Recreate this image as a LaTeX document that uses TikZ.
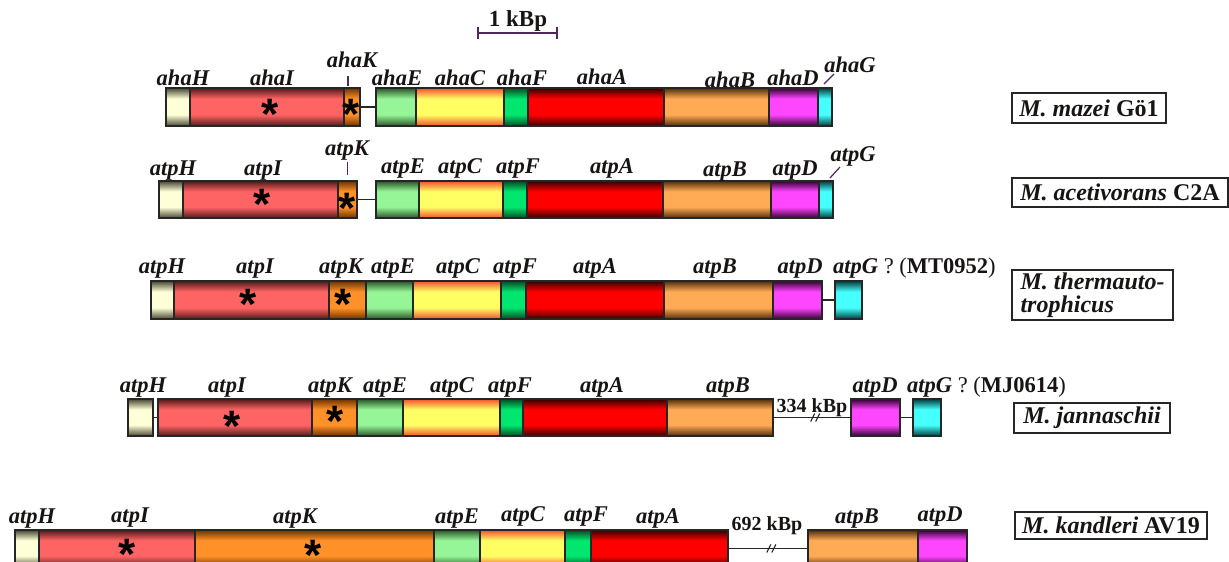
\documentclass[tikz,border=0pt]{standalone}
\usepackage{fontspec}
\setmainfont{Liberation Serif}
\newfontfamily\asterfont{Liberation Sans}
\usetikzlibrary{fit,calc}
\definecolor{txt}{RGB}{25,20,20}
\definecolor{tk}{RGB}{80,40,90}
\definecolor{cH}{RGB}{255,255,215}\definecolor{dH}{RGB}{70,70,50}
\definecolor{cI}{RGB}{255,100,100}\definecolor{dI}{RGB}{80,25,25}
\definecolor{cK}{RGB}{255,145,40}\definecolor{dK}{RGB}{110,50,0}
\definecolor{cE}{RGB}{150,245,150}\definecolor{dE}{RGB}{40,85,40}
\definecolor{cC}{RGB}{255,255,100}\definecolor{dC}{RGB}{240,80,45}
\definecolor{cF}{RGB}{0,230,110}\definecolor{dF}{RGB}{0,75,35}
\definecolor{cA}{RGB}{255,0,0}\definecolor{dA}{RGB}{50,0,0}
\definecolor{cB}{RGB}{255,170,85}\definecolor{dB}{RGB}{80,45,10}
\definecolor{cD}{RGB}{255,70,255}\definecolor{dD}{RGB}{50,0,50}
\definecolor{cG}{RGB}{70,255,255}\definecolor{dG}{RGB}{0,60,60}
\newcommand\mkshade[1]{\pgfdeclareverticalshading{sh#1}{100bp}{color(0bp)=(d#1); color(25bp)=(d#1); color(40bp)=(c#1); color(61bp)=(c#1); color(75bp)=(d#1); color(100bp)=(d#1)}}
\mkshade{H}\mkshade{I}\mkshade{K}\mkshade{E}\mkshade{C}\mkshade{F}\mkshade{A}\mkshade{B}\mkshade{D}\mkshade{G}
\newcommand\gn[6]{\node[gene=#2, fit={(#3,#5) (#4,#6)}] (#1) {};}
\newcommand\astr{\smash{\raisebox{-0.45em}{*}}}
\begin{document}
\begin{tikzpicture}[x=1pt,y=-1pt,
 gene/.style={draw=black!85, line width=1.1pt, shade, shading=sh#1, shading angle=0, inner sep=0pt, outer sep=0pt},
 lbl/.style={font=\fontsize{22.5}{24}\selectfont\bfseries\itshape, text=txt, inner sep=0pt, anchor=base},
 ast/.style={font=\asterfont\fontsize{44}{44}\selectfont\bfseries, inner sep=0pt},
 conn/.style={draw=black!85, line width=1.2pt},
 tickln/.style={draw=tk, line width=1.2pt},
 spbox/.style={draw=black!85, line width=1.1pt, font=\fontsize{24}{23}\selectfont\bfseries, text=txt, inner sep=0pt},
 kbp/.style={font=\fontsize{20}{22}\selectfont\bfseries, text=txt, inner sep=0pt, anchor=base}
]
\useasboundingbox (0,0) rectangle (1229,562);
\clip (0,0) rectangle (1229,562);
\fill[white] (0,0) rectangle (1229,562);

% scale bar
\coordinate (sbL) at (478,33); \coordinate (sbR) at (557,33);
\draw[tickln] (sbL) -- (sbR);
\draw[tickln] ($(sbL)+(0,-6)$) -- ($(sbL)+(0,6)$);
\draw[tickln] ($(sbR)+(0,-6)$) -- ($(sbR)+(0,6)$);
\node[kbp, font=\fontsize{23}{25}\selectfont\bfseries] (sbt) at (518,27) {1 kBp};

% ---------- row 1: M. mazei
\gn{r1H}{H}{166}{190}{88}{126}
\gn{r1I}{I}{190}{344}{88}{126}
\gn{r1K}{K}{344}{360}{88}{126}
\gn{r1E}{E}{376}{416}{88}{126}
\gn{r1C}{C}{416}{504}{88}{126}
\gn{r1F}{F}{504}{528}{88}{126}
\gn{r1A}{A}{528}{664}{88}{126}
\gn{r1B}{B}{664}{769}{88}{126}
\gn{r1D}{D}{769}{818}{88}{126}
\gn{r1G}{G}{818}{832}{88}{126}
\draw[conn] (r1K.east) -- (r1E.west);
\node[ast] (a1I) at (270,110) {\astr};
\node[ast] (a1K) at (351,110) {\astr};
\node[lbl] (l1H) at (183,85) {ahaH};
\node[lbl] (l1I) at (272,85) {ahaI};
\node[lbl] (l1K) at (352,67) {ahaK};
\node[lbl] (l1E) at (397,85) {ahaE};
\node[lbl] (l1C) at (460,85) {ahaC};
\node[lbl] (l1F) at (522,85) {ahaF};
\node[lbl] (l1A) at (602,84) {ahaA};
\node[lbl] (l1B) at (730,87) {ahaB};
\node[lbl] (l1D) at (793,85) {ahaD};
\node[lbl] (l1G) at (850,72) {ahaG};
\draw[tickln] ($(r1K.north)+(-4,-2)$) -- ++(0,-10);
\draw[tickln] ($(r1G.north)+(-1,-4)$) -- ++(10,-10);

% ---------- row 2: M. acetivorans
\gn{r2H}{H}{159}{183}{181}{218}
\gn{r2I}{I}{183}{338}{181}{218}
\gn{r2K}{K}{338}{357}{181}{218}
\gn{r2E}{E}{376}{419}{181}{218}
\gn{r2C}{C}{419}{503}{181}{218}
\gn{r2F}{F}{503}{527}{181}{218}
\gn{r2A}{A}{527}{663}{181}{218}
\gn{r2B}{B}{663}{771}{181}{218}
\gn{r2D}{D}{771}{819}{181}{218}
\gn{r2G}{G}{819}{833}{181}{218}
\draw[conn] (r2K.east) -- (r2E.west);
\node[ast] (a2I) at (262,200) {\astr};
\node[ast] (a2K) at (347,204) {\astr};
\node[lbl] (l2H) at (173,175) {atpH};
\node[lbl] (l2I) at (263,175) {atpI};
\node[lbl] (l2K) at (347,155) {atpK};
\node[lbl] (l2E) at (403,173) {atpE};
\node[lbl] (l2C) at (460,173) {atpC};
\node[lbl] (l2F) at (518,173) {atpF};
\node[lbl] (l2A) at (612,173) {atpA};
\node[lbl] (l2B) at (725,176) {atpB};
\node[lbl] (l2D) at (795,175) {atpD};
\node[lbl] (l2G) at (853,161) {atpG};
\draw[tickln] ($(r2K.north)+(0,-6)$) -- ++(0,-13);
\draw[tickln] ($(r2G.north)+(4,-3)$) -- ++(10,-11);

% ---------- row 3: M. thermautotrophicus
\gn{r3H}{H}{151}{174}{281}{319}
\gn{r3I}{I}{174}{329}{281}{319}
\gn{r3K}{K}{329}{366}{281}{319}
\gn{r3E}{E}{366}{413}{281}{319}
\gn{r3C}{C}{413}{501}{281}{319}
\gn{r3F}{F}{501}{526}{281}{319}
\gn{r3A}{A}{526}{664}{281}{319}
\gn{r3B}{B}{664}{773}{281}{319}
\gn{r3D}{D}{773}{822}{281}{319}
\gn{r3G}{G}{835}{862}{281}{319}
\draw[conn] (r3D.east) -- (r3G.west);
\node[ast] (a3I) at (248,300) {\astr};
\node[ast] (a3K) at (343,300) {\astr};
\node[lbl] (l3H) at (162,273) {atpH};
\node[lbl] (l3I) at (255,273) {atpI};
\node[lbl] (l3K) at (341,273) {atpK};
\node[lbl] (l3E) at (393,273) {atpE};
\node[lbl] (l3C) at (458,273) {atpC};
\node[lbl] (l3F) at (515,273) {atpF};
\node[lbl] (l3A) at (595,273) {atpA};
\node[lbl] (l3B) at (715,273) {atpB};
\node[lbl] (l3D) at (800,273) {atpD};
\node[lbl, anchor=base west] (l3G) at (833,273) {atpG {\upshape\mdseries ? (}{\upshape MT0952}{\upshape\mdseries )}};

% ---------- row 4: M. jannaschii
\gn{r4H}{H}{128}{153}{399}{436}
\gn{r4I}{I}{158}{312}{399}{436}
\gn{r4K}{K}{312}{357}{399}{436}
\gn{r4E}{E}{357}{403}{399}{436}
\gn{r4C}{C}{403}{500}{399}{436}
\gn{r4F}{F}{500}{523}{399}{436}
\gn{r4A}{A}{523}{667}{399}{436}
\gn{r4B}{B}{667}{773}{399}{436}
\gn{r4D}{D}{851}{900}{399}{436}
\gn{r4G}{G}{913}{941}{399}{436}
\draw[conn] (r4H.east) -- (r4I.west);
\draw[conn] (r4B.east) -- coordinate[pos=0.56] (brk4) (r4D.west);
\draw[conn] ($(brk4)+(-6,4)$) -- ($(brk4)+(-2,-4)$);
\draw[conn] ($(brk4)+(-1,4)$) -- ($(brk4)+(3,-4)$);
\draw[conn] (r4D.east) -- (r4G.west);
\node[ast] (a4I) at (232,422) {\astr};
\node[ast] (a4K) at (335,417) {\astr};
\node[lbl] (l4H) at (143,392) {atpH};
\node[lbl] (l4I) at (227,392) {atpI};
\node[lbl] (l4K) at (330,392) {atpK};
\node[lbl] (l4E) at (385,392) {atpE};
\node[lbl] (l4C) at (452,392) {atpC};
\node[lbl] (l4F) at (510,392) {atpF};
\node[lbl] (l4A) at (602,392) {atpA};
\node[lbl] (l4B) at (728,392) {atpB};
\node[lbl] (l4D) at (875,392) {atpD};
\node[lbl, anchor=base west] (l4G) at (907,392) {atpG {\upshape\mdseries ? (}{\upshape MJ0614}{\upshape\mdseries )}};
\node[kbp] (k4) at (812,412) {334 kBp};

% ---------- row 5: M. kandleri
\gn{r5H}{H}{15}{39}{530}{567}
\gn{r5I}{I}{39}{195}{530}{567}
\gn{r5K}{K}{195}{434}{530}{567}
\gn{r5E}{E}{434}{480}{530}{567}
\gn{r5C}{C}{480}{565}{530}{567}
\gn{r5F}{F}{565}{591}{530}{567}
\gn{r5A}{A}{591}{728}{530}{567}
\gn{r5B}{B}{808}{918}{530}{567}
\gn{r5D}{D}{918}{967}{530}{567}
\draw[conn] (r5A.east) -- coordinate[pos=0.56] (brk5) (r5B.west);
\draw[conn] ($(brk5)+(-6,4)$) -- ($(brk5)+(-2,-4)$);
\draw[conn] ($(brk5)+(-1,4)$) -- ($(brk5)+(3,-4)$);
\node[ast] (a5I) at (127,550) {\astr};
\node[ast] (a5K) at (313,551) {\astr};
\node[lbl] (l5H) at (32,523) {atpH};
\node[lbl] (l5I) at (130,522) {atpI};
\node[lbl] (l5K) at (295,523) {atpK};
\node[lbl] (l5E) at (457,523) {atpE};
\node[lbl] (l5C) at (523,521) {atpC};
\node[lbl] (l5F) at (586,521) {atpF};
\node[lbl] (l5A) at (658,523) {atpA};
\node[lbl] (l5B) at (857,523) {atpB};
\node[lbl] (l5D) at (940,521) {atpD};
\node[kbp] (k5) at (767,530) {692 kBp};

% ---------- species boxes
\node[spbox, minimum width=154pt, minimum height=30pt] (s1) at (1089,108) {\textit{M. mazei} Gö1};
\node[spbox, minimum width=216pt, minimum height=29pt] (s2) at (1120,192.5) {\textit{M. acetivorans} C2A};
\node[spbox, minimum width=161pt, minimum height=50pt, align=left] (s3) at (1092.5,295) {\textit{M. thermauto-}\\\textit{trophicus}};
\node[spbox, minimum width=156pt, minimum height=30pt] (s4) at (1092,418) {\textit{M. jannaschii}};
\node[spbox, minimum width=192pt, minimum height=27pt] (s5) at (1111,525.5) {\textit{M. kandleri} AV19};
\end{tikzpicture}
\end{document}
